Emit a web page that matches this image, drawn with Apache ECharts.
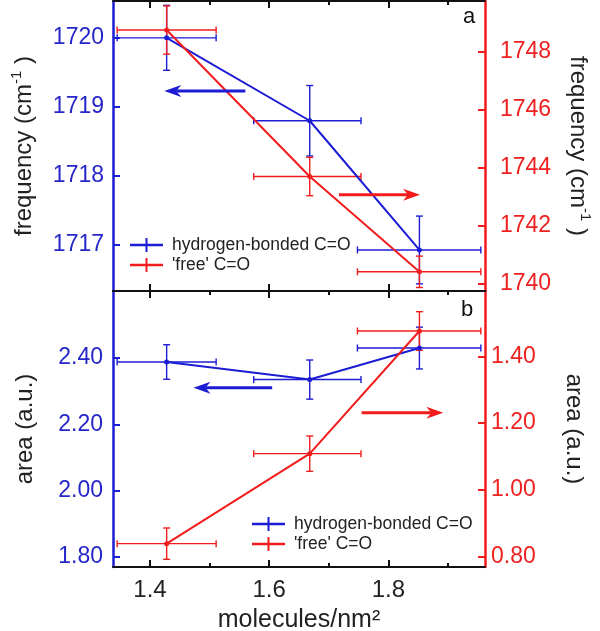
<!DOCTYPE html>
<html><head><meta charset="utf-8">
<script src="https://cdn.jsdelivr.net/npm/echarts@6/dist/echarts.min.js"></script>
<style>html,body{margin:0;padding:0;background:#fff}#c{width:600px;height:631px}</style>
</head><body><div id="c"></div>
<script>
// ---- data ----
const density = [1.428, 1.668, 1.852];
const densityErrLow = [0.083, 0.094, 0.104];
const densityErrHigh = [0.083, 0.086, 0.103];
const freqHB = [1720.0, 1718.8, 1716.93];
const freqHBErr = [0.47, 0.51, 0.49];
const freqFree = [1748.73, 1743.69, 1740.41];
const freqFreeErr = [0.83, 0.66, 0.54];
const areaHB = [2.388, 2.335, 2.430];
const areaHBErr = [0.052, 0.059, 0.063];
const areaFree = [0.838, 1.108, 1.476];
const areaFreeErr = [0.047, 0.053, 0.058];
const xTicks = [1.4, 1.6, 1.8];
const xMinorTicks = [1.5, 1.7, 1.9];
const freqLeftTicks = [1717, 1718, 1719, 1720];
const freqRightTicks = [1740, 1742, 1744, 1746, 1748];
const areaLeftTicks = [1.8, 2.0, 2.2, 2.4];
const areaRightTicks = [0.8, 1.0, 1.2, 1.4];
const seriesNames = ['hydrogen-bonded C=O', "'free' C=O"];
// arrow annotations: [xStart, yStart, xTip, yTip]
const arrowFreqHB = [1.560, 1719.23, 1.424, 1719.23];
const arrowFreqFree = [1.717, 1743.06, 1.853, 1743.06];
const arrowAreaHB = [1.605, 2.310, 1.473, 2.310];
const arrowAreaFree = [1.755, 1.231, 1.892, 1.231];

// ---- styling ----
const BLUE = '#1c1cd4', BLUE_T = '#2626c8';
const RED = '#f21c1c', RED_T = '#ee2020';
const FONT = '"Liberation Sans", Arial, sans-serif';
const X_MIN = 1.338, X_MAX = 1.962;

function errRender(color) {
  return function (params, api) {
    const x = api.value(0), y = api.value(1), xl = api.value(2), xh = api.value(3), ye = api.value(4);
    const L = api.coord([x - xl, y]), R = api.coord([x + xh, y]);
    const T = api.coord([x, y + ye]), B = api.coord([x, y - ye]);
    const cap = 3.5;
    const seg = (x1, y1, x2, y2) => ({ type: 'line', shape: { x1, y1, x2, y2 }, style: { stroke: color, lineWidth: 1.4, fill: null } });
    return { type: 'group', children: [
      seg(L[0], L[1], R[0], R[1]), seg(L[0], L[1] - cap, L[0], L[1] + cap), seg(R[0], R[1] - cap, R[0], R[1] + cap),
      seg(T[0], T[1], B[0], B[1]), seg(T[0] - cap, T[1], T[0] + cap, T[1]), seg(B[0] - cap, B[1], B[0] + cap, B[1])
    ] };
  };
}
function arrowRender(color) {
  return function (params, api) {
    const p1 = api.coord([api.value(0), api.value(1)]), p2 = api.coord([api.value(2), api.value(3)]);
    const dx = p2[0] - p1[0], dy = p2[1] - p1[1], len = Math.hypot(dx, dy);
    const ux = dx / len, uy = dy / len, px = -uy, py = ux;
    const H = 17, W = 6, N = 12;
    const base = [p2[0] - ux * N, p2[1] - uy * N];
    return { type: 'group', children: [
      { type: 'line', shape: { x1: p1[0], y1: p1[1], x2: base[0], y2: base[1] }, style: { stroke: color, lineWidth: 3 } },
      { type: 'polygon', shape: { points: [[p2[0], p2[1]], [p2[0] - ux * H + px * W, p2[1] - uy * H + py * W], [base[0], base[1]], [p2[0] - ux * H - px * W, p2[1] - uy * H - py * W]] }, style: { fill: color } }
    ] };
  };
}
const pts = (ys) => density.map((x, i) => [x, ys[i]]);
const errs = (ys, e) => density.map((x, i) => [x, ys[i], densityErrLow[i], densityErrHigh[i], e[i]]);

function xAxisDef(grid, pos, ticks, len, showLine, labels) {
  return {
    type: 'value', gridIndex: grid, position: pos, min: X_MIN, max: X_MAX,
    axisLine: { show: showLine, onZero: false, lineStyle: { color: '#111', width: 2 } },
    axisTick: { show: true, inside: true, length: len, customValues: ticks, lineStyle: { color: '#111', width: 2 } },
    axisLabel: labels ? { show: true, customValues: xTicks, formatter: v => v.toFixed(1), fontSize: 24, color: '#222', fontFamily: FONT, margin: 11 } : { show: false },
    splitLine: { show: false },
    name: labels ? 'molecules/nm²' : '', nameLocation: 'middle', nameGap: 41,
    nameTextStyle: { fontSize: 25, color: '#222', fontFamily: FONT }
  };
}
function yAxisDef(grid, pos, min, max, ticks, color, tcolor, margin, fmt, name, nameGap, rotate) {
  return {
    type: 'value', gridIndex: grid, position: pos, min, max,
    axisLine: { show: true, onZero: false, lineStyle: { color, width: 2.5 } },
    axisTick: { show: true, inside: true, length: 7, customValues: ticks, lineStyle: { color, width: 2 } },
    axisLabel: { customValues: ticks, formatter: fmt, fontSize: 23, color: tcolor, fontFamily: FONT, margin },
    splitLine: { show: false },
    name, nameLocation: 'middle', nameGap, nameRotate: rotate,
    nameTextStyle: { fontSize: 24, color: '#222', fontFamily: FONT,
      rich: { b: { fontSize: 24, color: '#222', fontFamily: FONT, lineHeight: 30 },
              s: { fontSize: 15, color: '#222', fontFamily: FONT, verticalAlign: 'top' } } }
  };
}
const freqName = '{b|frequency (cm}{s|-1}{b| )}';
const ICON = 'path://M0,5.75 L33,5.75 L33,8.25 L0,8.25 Z M15.5,0 L17.5,0 L17.5,14 L15.5,14 Z';
const legendBase = { orient: 'vertical', itemGap: 2, itemWidth: 33, itemHeight: 14, padding: 0, icon: ICON, selectedMode: false,
  textStyle: { fontSize: 17.5, color: '#222', fontFamily: FONT, padding: [0, 0, 0, 4] }, data: seriesNames };

const chart = echarts.init(document.getElementById('c'), null, { renderer: 'canvas' });
chart.setOption({
  animation: false,
  backgroundColor: '#fff',
  grid: [
    { left: 113, width: 372, top: 1, height: 290, outerBoundsMode: 'none' },
    { left: 113, width: 372, top: 291, height: 276, outerBoundsMode: 'none' }
  ],
  legend: [
    Object.assign({}, legendBase, { left: 130, top: 236 }),
    Object.assign({}, legendBase, { left: 252, top: 515 })
  ],
  xAxis: [
    xAxisDef(0, 'bottom', xTicks, 7, true, false),
    xAxisDef(0, 'top', xTicks, 7, true, false),
    xAxisDef(0, 'top', xMinorTicks, 4, false, false),
    xAxisDef(1, 'top', xTicks, 7, true, false),
    xAxisDef(1, 'top', xMinorTicks, 4, false, false),
    xAxisDef(1, 'bottom', xTicks, 7, true, true),
    xAxisDef(1, 'bottom', xMinorTicks, 4, false, false)
  ],
  yAxis: [
    yAxisDef(0, 'left', 1716.336, 1720.533, freqLeftTicks, BLUE, BLUE_T, 9, v => String(v), freqName, 74, null),
    yAxisDef(0, 'right', 1739.75, 1749.73, freqRightTicks, RED, RED_T, 15, v => String(v), freqName, 78, -90),
    yAxisDef(1, 'left', 1.770, 2.602, areaLeftTicks, BLUE, BLUE_T, 10, v => v.toFixed(2), 'area (a.u.)', 76, null),
    yAxisDef(1, 'right', 0.768, 1.596, areaRightTicks, RED, RED_T, 6, v => v.toFixed(2), 'area (a.u.)', 77, -90)
  ],
  graphic: [
    { type: 'text', left: 463, top: 6, style: { text: 'a', fontSize: 22, fill: '#111', fontFamily: FONT } },
    { type: 'text', left: 461, top: 299, style: { text: 'b', fontSize: 22, fill: '#111', fontFamily: FONT } }
  ],
  series: [
    { type: 'line', name: seriesNames[0], xAxisIndex: 0, yAxisIndex: 0, data: pts(freqHB), color: BLUE,
      lineStyle: { width: 2 }, symbol: 'circle', symbolSize: 5, itemStyle: { color: BLUE }, z: 3 },
    { type: 'line', name: seriesNames[1], xAxisIndex: 0, yAxisIndex: 1, data: pts(freqFree), color: RED,
      lineStyle: { width: 2 }, symbol: 'circle', symbolSize: 5, itemStyle: { color: RED }, z: 3 },
    { type: 'line', name: seriesNames[0], xAxisIndex: 5, yAxisIndex: 2, data: pts(areaHB), color: BLUE,
      lineStyle: { width: 2 }, symbol: 'circle', symbolSize: 5, itemStyle: { color: BLUE }, z: 3 },
    { type: 'line', name: seriesNames[1], xAxisIndex: 5, yAxisIndex: 3, data: pts(areaFree), color: RED,
      lineStyle: { width: 2 }, symbol: 'circle', symbolSize: 5, itemStyle: { color: RED }, z: 3 },
    { type: 'custom', name: seriesNames[0], xAxisIndex: 0, yAxisIndex: 0, data: errs(freqHB, freqHBErr), renderItem: errRender(BLUE), color: BLUE, z: 2 },
    { type: 'custom', name: seriesNames[1], xAxisIndex: 0, yAxisIndex: 1, data: errs(freqFree, freqFreeErr), renderItem: errRender(RED), color: RED, z: 2 },
    { type: 'custom', name: seriesNames[0], xAxisIndex: 5, yAxisIndex: 2, data: errs(areaHB, areaHBErr), renderItem: errRender(BLUE), color: BLUE, z: 2 },
    { type: 'custom', name: seriesNames[1], xAxisIndex: 5, yAxisIndex: 3, data: errs(areaFree, areaFreeErr), renderItem: errRender(RED), color: RED, z: 2 },
    { type: 'custom', xAxisIndex: 0, yAxisIndex: 0, data: [arrowFreqHB], renderItem: arrowRender(BLUE), silent: true, z: 4 },
    { type: 'custom', xAxisIndex: 0, yAxisIndex: 1, data: [arrowFreqFree], renderItem: arrowRender(RED), silent: true, z: 4 },
    { type: 'custom', xAxisIndex: 5, yAxisIndex: 2, data: [arrowAreaHB], renderItem: arrowRender(BLUE), silent: true, z: 4 },
    { type: 'custom', xAxisIndex: 5, yAxisIndex: 3, data: [arrowAreaFree], renderItem: arrowRender(RED), silent: true, z: 4 }
  ]
});
</script></body></html>
